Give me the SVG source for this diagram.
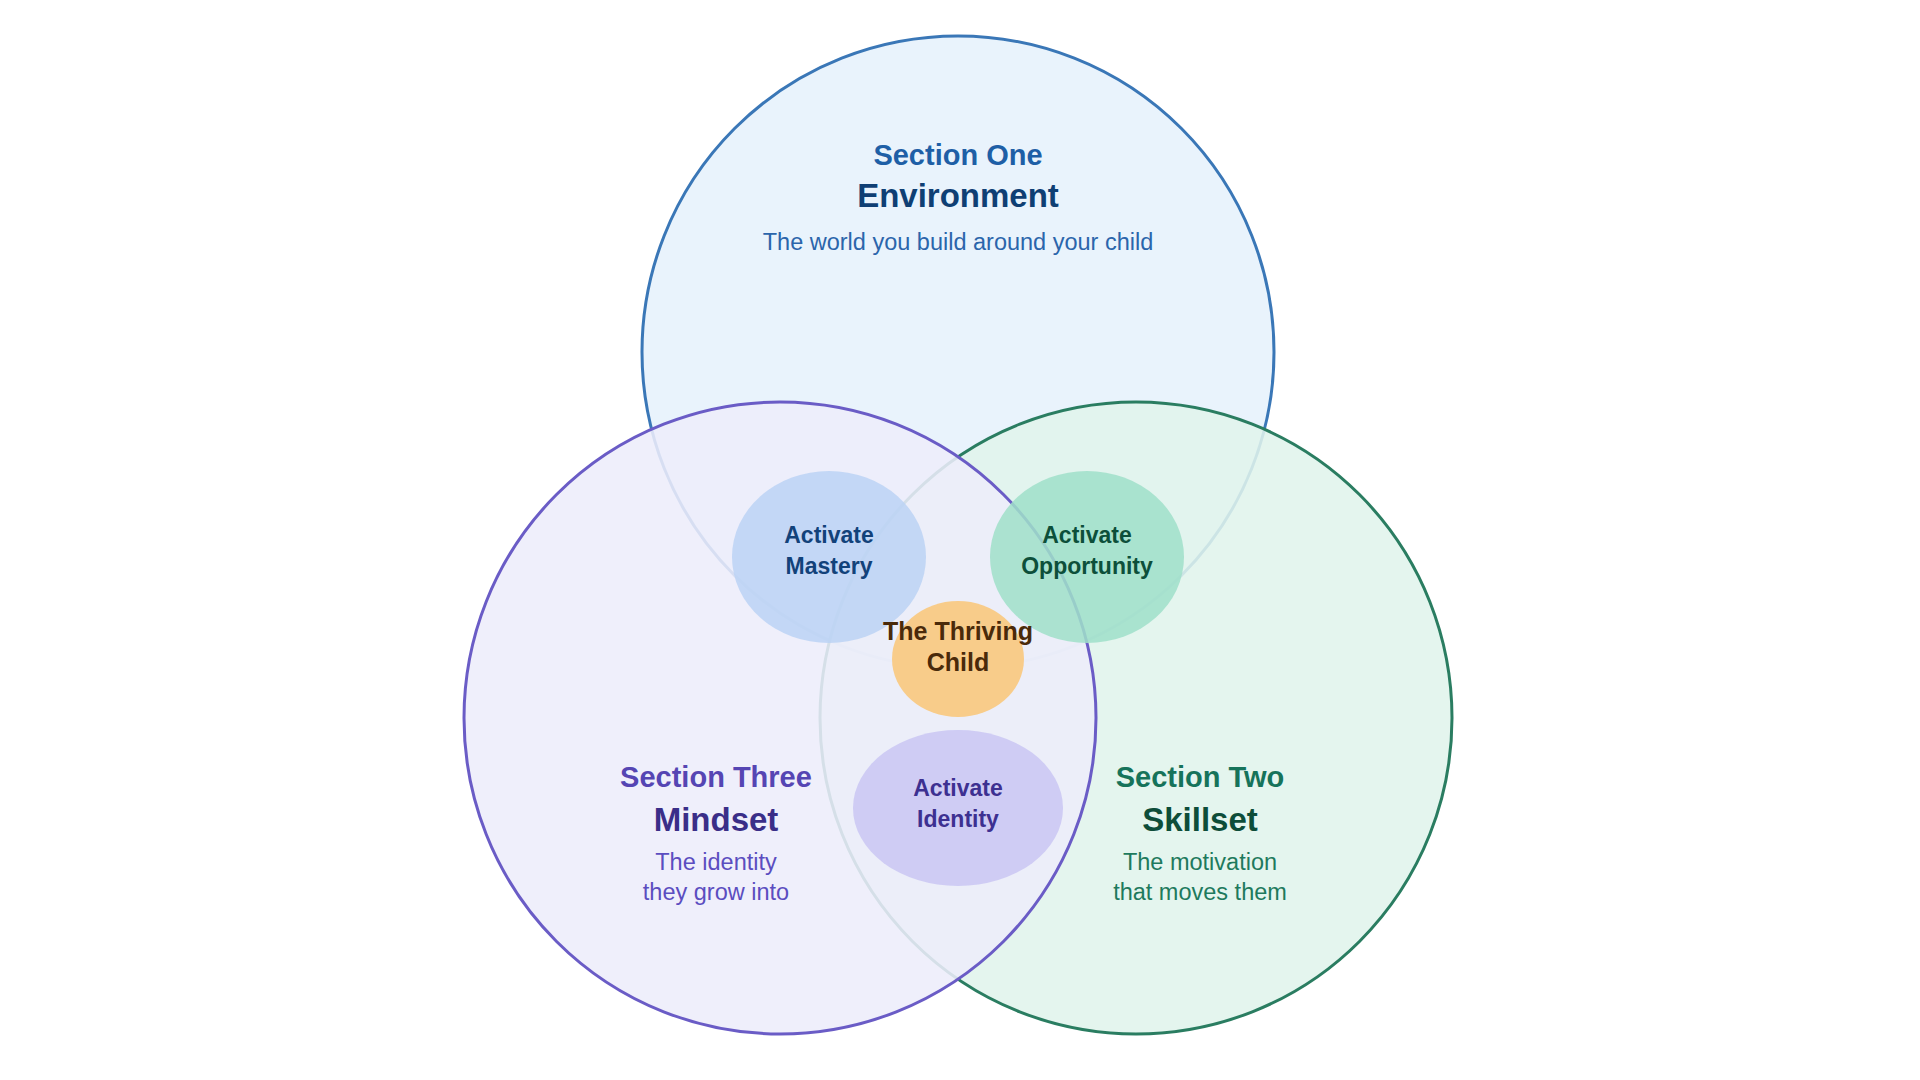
<svg xmlns="http://www.w3.org/2000/svg" width="1920" height="1080" viewBox="0 0 1920 1080">
<style>
  text { font-family: "Liberation Sans", Arial, sans-serif; text-anchor: middle; }
  .sec { font-size: 29px; font-weight: bold; }
  .ttl { font-size: 33px; font-weight: bold; }
  .sub { font-size: 23.5px; }
  .lbl { font-size: 23px; font-weight: bold; }
  .big { stroke-width: 3; fill-opacity: 0.88; }
  .small { opacity: 0.86; }
</style>
<rect width="1920" height="1080" fill="#ffffff"/>
<g id="environment">
  <circle class="big" cx="958" cy="352" r="316" fill="#E6F1FC" stroke="#3A77B7"/>
</g>
<g id="skillset">
  <circle class="big" cx="1136" cy="718" r="316" fill="#E0F4EC" stroke="#2A7D61"/>
</g>
<g id="mindset">
  <circle class="big" cx="780" cy="718" r="316" fill="#EDEDFB" stroke="#6A5CC6"/>
</g>
<g id="environment-text">
  <text class="sec" x="958" y="165" fill="#1E5FA6">Section One</text>
  <text class="ttl" x="958" y="207" fill="#0F3F74">Environment</text>
  <text class="sub" x="958" y="250" fill="#2B65AB">The world you build around your child</text>
</g>
<g id="mindset-text">
  <text class="sec" x="716" y="787" fill="#5545B3">Section Three</text>
  <text class="ttl" x="716" y="831" fill="#3A2E88">Mindset</text>
  <text class="sub" x="716" y="870" fill="#5B4DC0">The identity</text>
  <text class="sub" x="716" y="900" fill="#5B4DC0">they grow into</text>
</g>
<g id="skillset-text">
  <text class="sec" x="1200" y="787" fill="#16735A">Section Two</text>
  <text class="ttl" x="1200" y="831" fill="#0D4D39">Skillset</text>
  <text class="sub" x="1200" y="870" fill="#1E7A5D">The motivation</text>
  <text class="sub" x="1200" y="900" fill="#1E7A5D">that moves them</text>
</g>
<g id="connectors"></g>
<g id="activate-mastery">
  <ellipse class="small" cx="829" cy="557" rx="97" ry="86" fill="#BCD3F5"/>
  <text class="lbl" x="829" y="543" fill="#12427A">Activate</text>
  <text class="lbl" x="829" y="574" fill="#12427A">Mastery</text>
</g>
<g id="activate-opportunity">
  <ellipse class="small" cx="1087" cy="557" rx="97" ry="86" fill="#9FDFC9"/>
  <text class="lbl" x="1087" y="543" fill="#0D4F3A">Activate</text>
  <text class="lbl" x="1087" y="574" fill="#0D4F3A">Opportunity</text>
</g>
<g id="activate-identity">
  <ellipse class="small" cx="958" cy="808" rx="105" ry="78" fill="#CAC6F3"/>
  <text class="lbl" x="958" y="796" fill="#3D3091">Activate</text>
  <text class="lbl" x="958" y="827" fill="#3D3091">Identity</text>
</g>
<g id="thriving-child">
  <ellipse cx="958" cy="659" rx="66" ry="58" fill="#F8CC8A"/>
  <text x="958" y="640" font-size="25" font-weight="bold" fill="#4A2A0A">The Thriving</text>
  <text x="958" y="671" font-size="25" font-weight="bold" fill="#4A2A0A">Child</text>
</g>
</svg>
